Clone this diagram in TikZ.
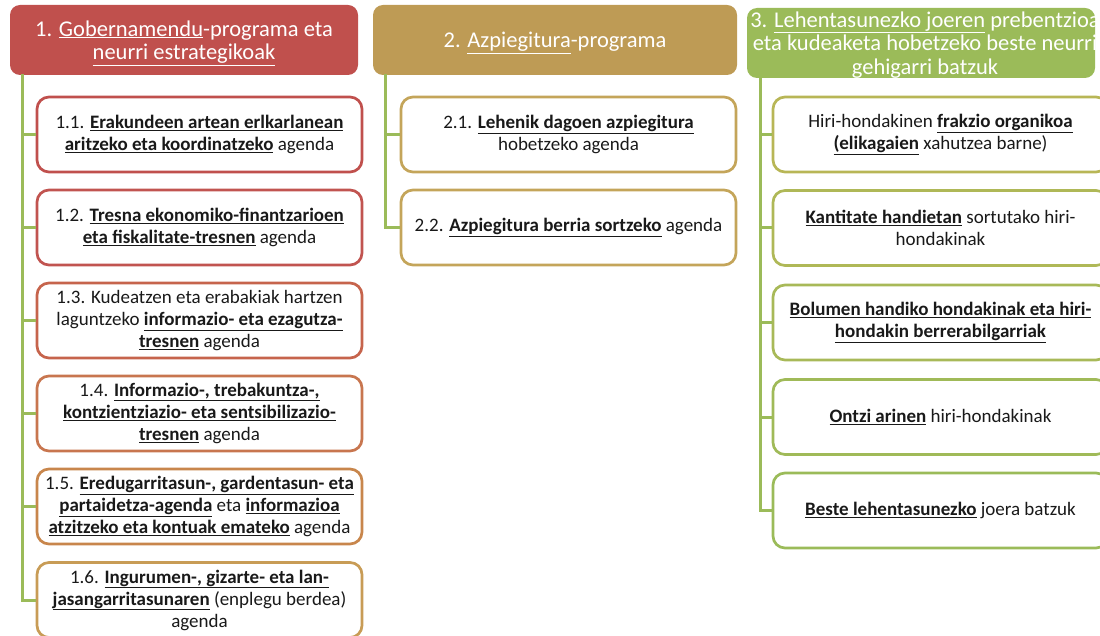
\documentclass[tikz,border=0pt]{standalone}
\usepackage{fontspec}
\setmainfont{Carlito}
\usetikzlibrary{calc}
\definecolor{hred}{HTML}{C0504D}
\definecolor{htan}{HTML}{BE9B55}
\definecolor{hgreen}{HTML}{9BBB59}
\definecolor{cA}{HTML}{C0504D}
\definecolor{cB}{HTML}{C15450}
\definecolor{cC}{HTML}{C6644C}
\definecolor{cD}{HTML}{C8764F}
\definecolor{cE}{HTML}{C8864C}
\definecolor{cF}{HTML}{C89C56}
\definecolor{cG}{HTML}{C4A55A}
\definecolor{cH}{HTML}{B8B656}
\definecolor{cI}{HTML}{AFB857}
\definecolor{cJ}{HTML}{A8B958}
\definecolor{cK}{HTML}{A0BA58}
\definecolor{cL}{HTML}{9BBB59}
\newcommand{\ulb}[1]{\underline{\textbf{#1}}}
\newcommand{\ulw}[1]{\underline{#1}}
\tikzset{
  headbox/.style={fill=#1, draw=none, rounded corners=10pt, inner sep=0pt},
  headtext/.style={text=white, align=center, font=\fontsize{22.5}{23.5}\selectfont, inner sep=0pt},
  childbox/.style={draw=#1, fill=white, line width=2.7pt, rounded corners=12pt, align=center,
    font=\fontsize{19}{22}\selectfont, inner sep=0pt, text=black!90},
  conn/.style={draw=hgreen, line width=3pt}
}
\begin{document}
\begin{tikzpicture}[x=1pt,y=-1pt]
\useasboundingbox (0,0) rectangle (1100,636);
\clip (0,0) rectangle (1100,636);
% headers
\node[headbox=hred, minimum width=348pt, minimum height=70pt] (h1) at (184,40) {};
\node[headtext] (h1t) at ($(h1.center)+(0,3)$)
  {1. \ulw{Gobernamendu}-programa eta\\\ulw{neurri estrategikoak}};
\node[headbox=htan, minimum width=364pt, minimum height=70pt] (h2) at (555,40) {};
\node[headtext] (h2t) at ($(h2.center)+(0,3)$) {2. \ulw{Azpiegitura}-programa};
\node[headbox=hgreen, minimum width=348pt, minimum height=70pt] (h3) at (921,43) {};
\node[headtext] (h3t) at ($(h3.center)+(4,2)$)
  {3. \ulw{Lehentasunezko joeren} prebentzioa\\eta kudeaketa hobetzeko beste neurri\\gehigarri batzuk};
% trunk coordinates
\coordinate (t1) at (22,74);
\coordinate (t2) at (385,74);
\coordinate (t3) at (760,77);
% column 1 boxes
\begin{scope}[every node/.append style={minimum width=325pt, minimum height=75pt}]
\node[childbox=cA] (b11) at (199.5,134.5)
  {1.1. \ulb{Erakundeen artean erlkarlanean}\\\ulb{aritzeko eta koordinatzeko} agenda};
\node[childbox=cB] (b12) at (199.5,227.5)
  {1.2. \ulb{Tresna ekonomiko-finantzarioen}\\\ulb{eta fiskalitate-tresnen} agenda};
\node[childbox=cC] (b13) at (199.5,320.5)
  {1.3. Kudeatzen eta erabakiak hartzen\\laguntzeko \ulb{informazio- eta ezagutza-}\\\ulb{tresnen} agenda};
\node[childbox=cD] (b14) at (199.5,413.5)
  {1.4. \ulb{Informazio-, trebakuntza-,}\\\ulb{kontzientziazio- eta sentsibilizazio-}\\\ulb{tresnen} agenda};
\node[childbox=cE] (b15) at (199.5,506.5)
  {1.5. \ulb{Eredugarritasun-, gardentasun- eta}\\\ulb{partaidetza-agenda} eta \ulb{informazioa}\\\ulb{atzitzeko eta kontuak emateko} agenda};
\node[childbox=cF] (b16) at (199.5,600)
  {1.6. \ulb{Ingurumen-, gizarte- eta lan-}\\\ulb{jasangarritasunaren} (enplegu berdea)\\agenda};
\end{scope}
% column 2 boxes
\begin{scope}[every node/.append style={minimum width=335pt, minimum height=75pt}]
\node[childbox=cG] (b21) at (568.5,134.5)
  {2.1. \ulb{Lehenik dagoen azpiegitura}\\hobetzeko agenda};
\node[childbox=cG] (b22) at (568.5,227.5)
  {2.2. \ulb{Azpiegitura berria sortzeko} agenda};
\end{scope}
% column 3 boxes
\begin{scope}[every node/.append style={minimum width=335pt, minimum height=75pt}]
\node[childbox=cH] (b31) at (940.5,134.5)
  {Hiri-hondakinen \ulb{frakzio organikoa}\\\ulb{(elikagaien} xahutzea barne)};
\node[childbox=cI] (b32) at (940.5,228)
  {\ulb{Kantitate handietan} sortutako hiri-\\hondakinak};
\node[childbox=cJ] (b33) at (940.5,322.5)
  {\ulb{Bolumen handiko hondakinak eta hiri-}\\\ulb{hondakin berrerabilgarriak}};
\node[childbox=cK] (b34) at (940.5,417)
  {\ulb{Ontzi arinen} hiri-hondakinak};
\node[childbox=cL] (b35) at (940.5,510.5)
  {\ulb{Beste lehentasunezko} joera batzuk};
\end{scope}
% connectors
\draw[conn] (t1) |- (b16.west);
\foreach \b in {b11,b12,b13,b14,b15} \draw[conn] (t1 |- \b.west) -- (\b.west);
\draw[conn] (t2) |- (b22.west);
\draw[conn] (t2 |- b21.west) -- (b21.west);
\draw[conn] (t3) |- (b35.west);
\foreach \b in {b31,b32,b33,b34} \draw[conn] (t3 |- \b.west) -- (\b.west);
\end{tikzpicture}
\end{document}
